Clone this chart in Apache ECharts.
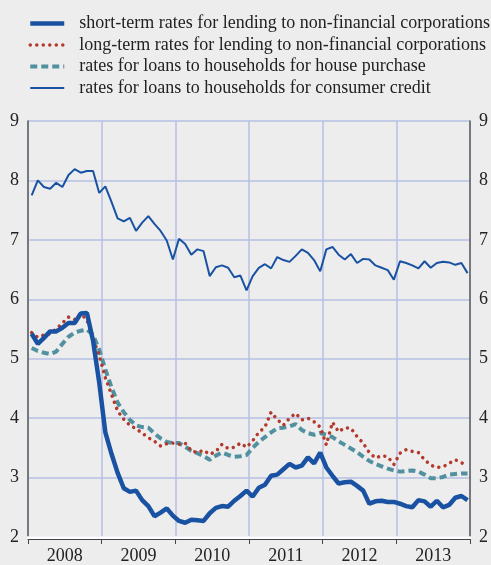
<!DOCTYPE html>
<html>
<head>
<meta charset="utf-8">
<style>
  html, body { margin: 0; padding: 0; background: #ecedec; }
  #chart { width: 491px; height: 565px; }
</style>
<script src="https://cdn.jsdelivr.net/npm/echarts@6/dist/echarts.min.js"></script>
</head>
<body>
<div id="chart"></div>
<script>
// years on the axis, monthly observations Jan 2008 - Dec 2013
const years = ['2008', '2009', '2010', '2011', '2012', '2013'];
const yTicks = [2, 9, 1]; // min, max, step

const shortTerm = [
  5.42, 5.25, 5.35, 5.46, 5.46, 5.52, 5.60, 5.60, 5.76, 5.77, 5.30, 4.60,
  3.76, 3.40, 3.08, 2.82, 2.76, 2.78, 2.62, 2.52, 2.35, 2.41, 2.48, 2.36,
  2.27, 2.24, 2.29, 2.28, 2.27, 2.40, 2.49, 2.52, 2.51, 2.61, 2.69, 2.78,
  2.68, 2.83, 2.88, 3.03, 3.05, 3.14, 3.23, 3.17, 3.20, 3.34, 3.24, 3.42,
  3.17, 3.03, 2.90, 2.92, 2.93, 2.86, 2.78, 2.56, 2.60, 2.61, 2.59, 2.59,
  2.56, 2.52, 2.50, 2.62, 2.60, 2.51, 2.61, 2.50, 2.54, 2.66, 2.69, 2.62
];
const longTerm = [
  5.44, 5.36, 5.40, 5.42, 5.50, 5.60, 5.70, 5.66, 5.76, 5.65, 5.34, 5.05,
  4.68, 4.40, 4.12, 3.98, 3.88, 3.82, 3.75, 3.67, 3.61, 3.53, 3.57, 3.58,
  3.56, 3.58, 3.45, 3.42, 3.46, 3.39, 3.44, 3.56, 3.49, 3.51, 3.58, 3.51,
  3.62, 3.76, 3.85, 4.10, 3.98, 3.88, 4.00, 4.08, 3.97, 4.00, 3.94, 3.85,
  3.55, 3.93, 3.77, 3.84, 3.83, 3.69, 3.58, 3.42, 3.33, 3.37, 3.35, 3.22,
  3.41, 3.47, 3.44, 3.42, 3.30, 3.21, 3.17, 3.18, 3.24, 3.30, 3.25, 3.20
];
const housePurchase = [
  5.18, 5.13, 5.10, 5.08, 5.12, 5.25, 5.37, 5.44, 5.47, 5.49, 5.40, 5.15,
  4.82, 4.52, 4.26, 4.10, 3.97, 3.88, 3.85, 3.84, 3.74, 3.66, 3.60, 3.58,
  3.58, 3.52, 3.45, 3.41, 3.36, 3.30, 3.37, 3.42, 3.38, 3.35, 3.36, 3.38,
  3.50, 3.60, 3.68, 3.76, 3.83, 3.84, 3.86, 3.90, 3.80, 3.75, 3.72, 3.75,
  3.72, 3.68, 3.61, 3.55, 3.49, 3.43, 3.35, 3.28, 3.23, 3.19, 3.15, 3.12,
  3.10, 3.11, 3.12, 3.10, 3.05, 2.99, 2.99, 3.01, 3.05, 3.06, 3.07, 3.07
];
const consumerCredit = [
  7.75, 8.00, 7.89, 7.86, 7.96, 7.89, 8.09, 8.19, 8.13, 8.16, 8.16, 7.79,
  7.90, 7.64, 7.36, 7.31, 7.37, 7.15, 7.29, 7.40, 7.27, 7.15, 6.99, 6.67,
  7.02, 6.93, 6.75, 6.84, 6.81, 6.39, 6.54, 6.57, 6.53, 6.37, 6.40, 6.15,
  6.39, 6.53, 6.59, 6.52, 6.71, 6.66, 6.63, 6.73, 6.84, 6.78, 6.66, 6.47,
  6.84, 6.88, 6.75, 6.67, 6.76, 6.61, 6.68, 6.67, 6.57, 6.53, 6.49, 6.33,
  6.64, 6.61, 6.57, 6.52, 6.64, 6.53, 6.61, 6.63, 6.62, 6.58, 6.61, 6.44
];

const names = [
  'short-term rates for lending to non-financial corporations',
  'long-term rates for lending to non-financial corporations',
  'rates for loans to households for house purchase',
  'rates for loans to households for consumer credit'
];

const font = 'Liberation Serif';
const months = years.length * 12;
// month index -> position on the month scale (a bit after the month start)
const toPoints = arr => arr.map((v, i) => [i + 0.6, v]);

const chart = echarts.init(document.getElementById('chart'));

const yAxisBase = {
  type: 'value',
  min: yTicks[0],
  max: yTicks[1],
  interval: yTicks[2],
  axisLine: { show: true, lineStyle: { color: '#5c5c5c', width: 1.5 } },
  axisTick: { show: false },
  axisLabel: { fontFamily: font, fontSize: 18, color: '#222', margin: 9 },
  splitLine: { lineStyle: { color: '#b7bfe6', width: 1.5 } }
};

chart.setOption({
  animation: false,
  backgroundColor: '#ecedec',
  legend: {
    orient: 'vertical',
    left: 28,
    top: 14.5,
    padding: 0,
    itemWidth: 34,
    itemHeight: 12,
    itemGap: 3.5,
    data: names,
    itemStyle: { opacity: 0 }, // hide the marker dot, keep the line
    lineStyle: { width: 'inherit' },
    textStyle: {
      fontFamily: font,
      fontSize: 18,
      lineHeight: 18,
      color: '#222',
      padding: [0, 0, 0, 10]
    }
  },
  grid: { left: 28, right: 15, top: 121, bottom: 28 },
  xAxis: [
    {
      type: 'value',
      min: 0,
      max: months,
      interval: 12,
      axisLine: { show: true, lineStyle: { color: '#ffffff', width: 2.5 } },
      axisTick: { show: false },
      axisLabel: { show: false },
      splitLine: { show: true, lineStyle: { color: '#b7bfe6', width: 1.5 } }
    },
    {
      type: 'category',
      data: years,
      position: 'bottom',
      offset: 2,
      boundaryGap: true,
      axisLine: { show: true, lineStyle: { color: '#444', width: 1 } },
      axisTick: { show: true, length: 5, lineStyle: { color: '#444' } },
      axisLabel: { fontFamily: font, fontSize: 18, color: '#222', margin: 8 },
      splitLine: { show: false }
    }
  ],
  yAxis: [
    Object.assign({}, yAxisBase, { position: 'left' }),
    Object.assign({}, yAxisBase, { position: 'right', splitLine: { show: false } })
  ],
  series: [
    {
      name: names[3],
      type: 'line',
      data: toPoints(consumerCredit),
      symbol: 'none',
      lineStyle: { color: '#1a52a3', width: 2 },
      itemStyle: { color: '#1a52a3' }
    },
    {
      name: names[2],
      type: 'line',
      data: toPoints(housePurchase),
      symbol: 'none',
      lineStyle: { color: '#51909f', width: 4, type: [7, 4] },
      itemStyle: { color: '#51909f' }
    },
    {
      name: names[1],
      type: 'line',
      data: toPoints(longTerm),
      symbol: 'none',
      lineStyle: { color: '#b5382c', width: 3.5, type: [0.01, 6.5], cap: 'round' },
      itemStyle: { color: '#b5382c' }
    },
    {
      name: names[0],
      type: 'line',
      data: toPoints(shortTerm),
      symbol: 'none',
      lineStyle: { color: '#1a52a3', width: 4.5 },
      itemStyle: { color: '#1a52a3' }
    }
  ]
});
</script>
</body>
</html>
